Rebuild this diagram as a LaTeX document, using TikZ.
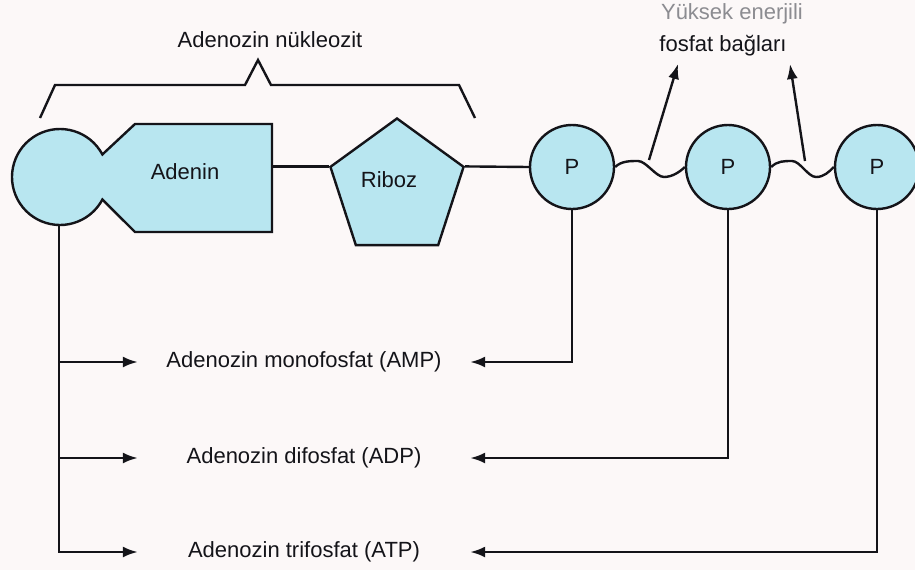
\documentclass[tikz,border=0pt]{standalone}
\usepackage{fontspec}
\setmainfont{Liberation Sans}
\usetikzlibrary{arrows.meta,shapes.geometric,calc}
\definecolor{fillc}{RGB}{184,230,240}
\definecolor{bgc}{RGB}{252,248,248}
\definecolor{inkc}{RGB}{20,20,25}
\definecolor{fadec}{RGB}{140,140,145}
\begin{document}
\begin{tikzpicture}[x=1pt,y=-1pt,
  ln/.style={draw=inkc,line width=2.4pt},
  arr/.style={ln,-{Latex[length=15pt,width=11pt]}},
  part/.style={ln,fill=fillc},
  lbl/.style={font=\fontsize{22}{26}\selectfont,text=inkc},
  res/.style={lbl,minimum width=332pt,inner sep=0pt},
  pcirc/.style={part,circle,minimum size=84pt,inner sep=0pt,lbl}]
\fill[bgc] (0,0) rectangle (915,570);
\useasboundingbox (0,0) rectangle (915,570);

% adenosine base: circle + adenin block
\coordinate (circ) at (60,177);
\draw[part] ($(circ)+(-28:48)$) arc[start angle=-28,end angle=-332,radius=48]
  -- (135,232) -- (272,232) -- (272,124) -- (135,124) -- cycle;
\node[minimum width=137pt,minimum height=108pt,inner sep=0pt] (adbox) at (203.5,178) {};
\node[lbl] (adenin) at (185,172) {Adenin};

% ribose
\node[part,regular polygon,regular polygon sides=5,minimum size=140pt,inner sep=0pt] (riboz) at (397,188.5) {};
\node[lbl] (ribtxt) at (389,180) {Riboz};

% phosphates
\node[pcirc] (P1) at (572,167) {P};
\node[pcirc] (P2) at (728,167) {P};
\node[pcirc] (P3) at (877,167) {P};

% connections
\draw[ln] (adbox.east |- riboz.corner 2) -- (riboz.corner 2);
\draw[ln] (riboz.corner 5) -- (P1.west);

% high energy bonds
\coordinate (b1a) at (638,161);
\coordinate (b1b) at (664,177);
\coordinate (b2a) at (792,161);
\coordinate (b2b) at (816,177);
\draw[ln] (P1.east) .. controls +(6,-6) and +(-8,0) .. (b1a)
  .. controls +(8,0) and +(-8,0) .. (b1b)
  .. controls +(8,0) and +(-5,5) .. (P2.west);
\draw[ln] (P2.east) .. controls +(6,-6) and +(-8,0) .. (b2a)
  .. controls +(8,0) and +(-8,0) .. (b2b)
  .. controls +(8,0) and +(-5,5) .. (P3.west);

% labels on top
\node[lbl,anchor=base] (nuk) at (270,47) {Adenozin nükleozit};
\node[lbl,anchor=base,text=fadec] (yuk) at (732,19) {Yüksek enerjili};
\node[lbl,anchor=base] (fos) at (723,51) {fosfat bağları};

% brace
\coordinate (brL) at (40,118);
\coordinate (brR) at (475,118);
\draw[ln,line join=miter] (brL) -- (55,85) -- (245,85) -- (258,60) -- (271,85) -- (459,85) -- (brR);

% arrows to label
\coordinate (e1) at (649,160);
\coordinate (e2) at (805,161);
\coordinate (t1) at (678,64);
\coordinate (t2) at (790,64);
\draw[arr] (e1) -- (t1);
\draw[arr] (e2) -- (t2);

% products
\node[res] (amp) at (304,362) {Adenozin monofosfat (AMP)};
\node[res] (adp) at (304,458) {Adenozin difosfat (ADP)};
\node[res] (atp) at (304,552) {Adenozin trifosfat (ATP)};

\coordinate (cb) at (59,225);
\draw[arr] (cb) |- (atp.west);
\draw[arr] (cb |- amp.west) -- (amp.west);
\draw[arr] (cb |- adp.west) -- (adp.west);

\draw[arr] (P1.south) |- (amp.east);
\draw[arr] (P2.south) |- (adp.east);
\draw[arr] (P3.south) |- (atp.east);
\end{tikzpicture}
\end{document}
